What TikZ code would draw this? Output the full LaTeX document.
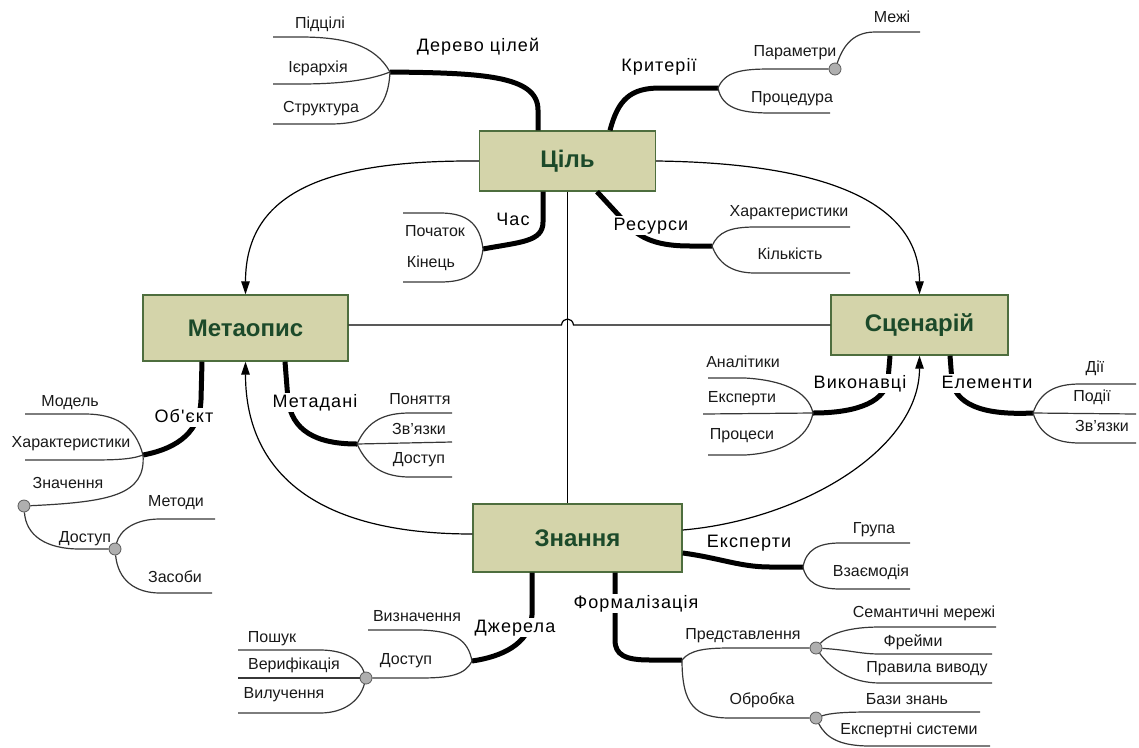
\documentclass[tikz,border=0pt]{standalone}
\usepackage{fontspec}
\setmainfont{Liberation Sans}
\newfontfamily\branchfont{Liberation Sans}[LetterSpace=6]
\usetikzlibrary{arrows.meta,calc}
\definecolor{hubfill}{RGB}{212,212,170}
\definecolor{hubedge}{RGB}{78,110,62}
\definecolor{hubtext}{RGB}{28,74,42}
\definecolor{twig}{RGB}{55,55,55}
\definecolor{knob}{RGB}{175,175,175}

\begin{document}
\begin{tikzpicture}[x=1pt,y=-1pt,
  hub/.style={draw=hubedge, fill=hubfill, line width=1.4pt, inner sep=0pt, text=hubtext,
    font=\fontsize{24}{28}\selectfont\bfseries},
  link/.style={line width=1.2pt, black},
  arrowlink/.style={link, -{Triangle[length=13pt,width=8.5pt]}},
  limb/.style={line width=5pt, black},
  twigline/.style={line width=1.2pt, twig},
  knobnode/.style={circle, draw=black!65, fill=knob, line width=0.8pt, minimum size=12pt, inner sep=0pt},
  big/.style={font=\branchfont\fontsize{18}{20}\selectfont, inner sep=1.5pt, text height=13pt, text depth=3pt},
  masked/.style={big, fill=white},
  small/.style={font=\fontsize{16}{18}\selectfont, inner sep=1pt, text height=11.5pt, text depth=2.5pt, text=black!90},
]
\useasboundingbox (0,0) rectangle (1139,747);

% ---- central blocks
\node[hub, minimum width=176pt, minimum height=60pt] (goal)  at (567.5,161) {Ціль};
\node[hub, minimum width=205pt, minimum height=66pt] (meta)  at (245.5,328) {Метаопис};
\node[hub, minimum width=177pt, minimum height=60pt] (scene) at (919.5,325) {Сценарій};
\node[hub, minimum width=209pt, minimum height=68pt] (know)  at (577.5,538) {Знання};

% ---- small grey knobs where twigs split again
\node[knobnode] (k1) at (835,69) {};
\node[knobnode] (k2) at (24,506) {};
\node[knobnode] (k3) at (115,549) {};
\node[knobnode] (k4) at (816,648) {};
\node[knobnode] (k5) at (816,718) {};
\node[knobnode] (k6) at (366,678) {};

% ---- branch junctions
\coordinate (jTree) at (390,72);
\coordinate (jCrit) at (718,88);
\coordinate (jTime) at (483,249);
\coordinate (jRes)  at (712,246);
\coordinate (jObj)  at (143,455);
\coordinate (jMeta) at (357,444);
\coordinate (jExec) at (813,413);
\coordinate (jElem) at (1033,413);
\coordinate (jExp)  at (803,567);
\coordinate (jForm) at (682,660);
\coordinate (jSrc)  at (472,661);

% ---- links between the central blocks
\draw[arrowlink] (goal.west) .. controls (330,160) and (245.5,190) .. (meta.north);
\draw[arrowlink] (goal.east) .. controls (820,163) and (919.5,200) .. (scene.north);
\draw[link] (meta.east |- scene.west) -- (561.5,325) .. controls (562.5,317) and (572.5,317) .. (573.5,325) -- (scene.west);
\draw[link] (goal.south) -- (goal.south |- know.north);
\draw[arrowlink] ([yshift=4pt]know.west) .. controls (300,534) and (245.5,460) .. (meta.south);
\draw[arrowlink] ([yshift=8pt]know.east) .. controls (800,520) and (919.5,450) .. (scene.south);

% ---- thick main branches
\draw[limb] ([xshift=-29.5pt]goal.north) -- (538,110) .. controls (538,75) and (480,73) .. (jTree);
\draw[limb] ([xshift=42.5pt]goal.north) .. controls (618,100) and (630,88) .. (660,88) -- (jCrit);
\draw[limb] ([xshift=-24.5pt]goal.south) -- (543,222) .. controls (543,242) and (520,242) .. (jTime);
\draw[limb] ([xshift=29.5pt]goal.south) -- (625,222) .. controls (640,240) and (660,246) .. (690,246) -- (jRes);
\draw[limb] ([xshift=-43.5pt]meta.south) -- (201,400) .. controls (200,430) and (180,448) .. (jObj);
\draw[limb] ([xshift=39.5pt]meta.south) -- (288,400) .. controls (292,430) and (315,444) .. (jMeta);
\draw[limb] ([xshift=-29.5pt]scene.south) -- (888,380) .. controls (884,405) and (850,413) .. (jExec);
\draw[limb] ([xshift=30.5pt]scene.south) -- (952,382) .. controls (958,408) and (990,415) .. (jElem);
\draw[limb] ([yshift=-15pt]know.east) .. controls (720,558) and (740,567) .. (770,567) -- (jExp);
\draw[limb] ([xshift=37.5pt]know.south) -- (615,640) .. controls (615,655) and (625,660) .. (650,660) -- (jForm);
\draw[limb] ([xshift=-45.5pt]know.south) -- (532,615) .. controls (530,645) and (500,657) .. (jSrc);

% ---- thin twigs
\draw[twigline] (jTree) .. controls (375,45) and (345,37) .. (300,37) -- (273,37) coordinate (eT1);
\draw[twigline] (jTree) .. controls (365,82) and (330,84) .. (300,84) -- (273,84) coordinate (eT2);
\draw[twigline] (jTree) .. controls (388,110) and (370,124) .. (330,124) -- (273,124) coordinate (eT3);

\draw[twigline] (jCrit) .. controls (725,72) and (740,69) .. (770,69) -- (k1);
\draw[twigline] (jCrit) .. controls (722,108) and (740,113) .. (770,113) -- (830,113) coordinate (eC2);
\draw[twigline] (k1) .. controls (842,50) and (850,32) .. (875,32) -- (920,32) coordinate (eC3);

\draw[twigline] (jTime) .. controls (480,222) and (465,213) .. (440,213) -- (403,213) coordinate (eH1);
\draw[twigline] (jTime) .. controls (480,275) and (465,282) .. (440,282) -- (403,282) coordinate (eH2);

\draw[twigline] (jRes) .. controls (718,232) and (730,227) .. (755,227) -- (850,227) coordinate (eR1);
\draw[twigline] (jRes) .. controls (718,262) and (730,273) .. (755,273) -- (850,273) coordinate (eR2);

\draw[twigline] (jObj) .. controls (135,425) and (115,414) .. (85,414) -- (25,414) coordinate (eO1);
\draw[twigline] (jObj) .. controls (130,460) and (110,460) .. (85,460) -- (25,460) coordinate (eO2);
\draw[twigline] (jObj) .. controls (146,495) and (110,502) .. (k2);
\draw[twigline] (k2) .. controls (26,535) and (45,549) .. (80,549) -- (k3);
\draw[twigline] (k3) .. controls (120,530) and (135,519) .. (160,519) -- (215,519) coordinate (eO3);
\draw[twigline] (k3) .. controls (118,580) and (135,593) .. (160,593) -- (212,593) coordinate (eO4);

\draw[twigline] (jMeta) .. controls (368,420) and (385,413) .. (410,413) -- (452,413) coordinate (eM1);
\draw[twigline] (jMeta) -- (452,442) coordinate (eM2);
\draw[twigline] (jMeta) .. controls (368,468) and (385,477) .. (410,477) -- (452,477) coordinate (eM3);

\draw[twigline] (jExec) .. controls (808,390) and (780,380) .. (745,378) -- (708,378) coordinate (eX1);
\draw[twigline] (jExec) -- (703,414) coordinate (eX2);
\draw[twigline] (jExec) .. controls (808,440) and (780,453) .. (745,455) -- (708,455) coordinate (eX3);

\draw[twigline] (jElem) .. controls (1040,392) and (1055,384) .. (1080,384) -- (1136,384) coordinate (eE1);
\draw[twigline] (jElem) -- (1136,414) coordinate (eE2);
\draw[twigline] (jElem) .. controls (1040,435) and (1055,443) .. (1080,443) -- (1136,443) coordinate (eE3);

\draw[twigline] (jExp) .. controls (806,550) and (818,543) .. (840,543) -- (910,543) coordinate (eP1);
\draw[twigline] (jExp) .. controls (806,582) and (818,589) .. (840,589) -- (910,589) coordinate (eP2);

\draw[twigline] (jForm) .. controls (690,650) and (705,648) .. (730,648) -- (k4);
\draw[twigline] (jForm) .. controls (682,705) and (695,718) .. (730,718) -- (k5);
\draw[twigline] (k4) .. controls (830,633) and (850,627) .. (880,627) -- (996,627) coordinate (eF1);
\draw[twigline] (k4) .. controls (850,650) and (860,654) .. (880,654) -- (992,654) coordinate (eF2);
\draw[twigline] (k4) .. controls (830,668) and (850,683) .. (880,683) -- (992,683) coordinate (eF3);
\draw[twigline] (k5) .. controls (830,713) and (845,712) .. (870,712) -- (980,712) coordinate (eF4);
\draw[twigline] (k5) .. controls (826,738) and (840,746) .. (870,746) -- (990,746) coordinate (eF5);

\draw[twigline] (jSrc) .. controls (468,640) and (455,631) .. (420,630) -- (368,630) coordinate (eS1);
\draw[twigline] (jSrc) .. controls (465,675) and (450,678) .. (420,678) -- (k6);
\draw[twigline] (k6) .. controls (360,660) and (345,650) .. (320,650) -- (238,650) coordinate (eS2);
\draw[twigline] (k6) -- (238,678) coordinate (eS3);
\draw[twigline] (k6) .. controls (360,700) and (345,713) .. (320,713) -- (238,713) coordinate (eS4);

% ---- branch titles
\node[big]    (tTree) at (478,46)  {Дерево цілей};
\node[big]    (tCrit) at (659,66)  {Критерії};
\node[big]    (tTime) at (513,220) {Час};
\node[masked] (tRes)  at (651,225) {Ресурси};
\node[masked] (tObj)  at (184,417) {Об'єкт};
\node[masked] (tMeta) at (315,402) {Метадані};
\node[masked] (tExec) at (860,383) {Виконавці};
\node[masked] (tElem) at (987,383) {Елементи};
\node[big]    (tExp)  at (749,542) {Експерти};
\node[masked] (tForm) at (636,603) {Формалізація};
\node[masked] (tSrc)  at (515,627) {Джерела};

% ---- twig captions
\node[small] (a1) at (320,24)  {Підцілі};
\node[small] (a2) at (318,68)  {Ієрархія};
\node[small] (a3) at (321,108) {Структура};

\node[small] (b1) at (795,52)  {Параметри};
\node[small] (b2) at (792,98)  {Процедура};
\node[small] (b3) at (892,18)  {Межі};

\node[small] (c1) at (435,232) {Початок};
\node[small] (c2) at (431,263) {Кінець};

\node[small] (d1) at (789,212) {Характеристики};
\node[small] (d2) at (790,255) {Кількість};

\node[small] (f1) at (70,402)  {Модель};
\node[small] (f2) at (71,443)  {Характеристики};
\node[small] (f3) at (68,484)  {Значення};
\node[small] (f4) at (85,538)  {Доступ};
\node[small] (f5) at (176,502) {Методи};
\node[small] (f6) at (175,578) {Засоби};

\node[small] (g1) at (420,400) {Поняття};
\node[small] (g2) at (419,430) {Зв'язки};
\node[small] (g3) at (419,459) {Доступ};

\node[small] (h1) at (743,363) {Аналітики};
\node[small] (h2) at (742,398) {Експерти};
\node[small] (h3) at (742,435) {Процеси};

\node[small] (i1) at (1095,368) {Дії};
\node[small] (i2) at (1092,397) {Події};
\node[small] (i3) at (1102,427) {Зв'язки};

\node[small] (m1) at (874,529) {Група};
\node[small] (m2) at (871,572) {Взаємодія};

\node[small] (n1) at (743,635) {Представлення};
\node[small] (n2) at (762,700) {Обробка};
\node[small] (n3) at (924,613) {Семантичні мережі};
\node[small] (n4) at (913,642) {Фрейми};
\node[small] (n5) at (927,668) {Правила виводу};
\node[small] (n6) at (907,700) {Бази знань};
\node[small] (n7) at (909,730) {Експертні системи};

\node[small] (p1) at (417,617) {Визначення};
\node[small] (p2) at (406,660) {Доступ};
\node[small] (p3) at (272,638) {Пошук};
\node[small] (p4) at (294,665) {Верифікація};
\node[small] (p5) at (284,694) {Вилучення};
\end{tikzpicture}
\end{document}
